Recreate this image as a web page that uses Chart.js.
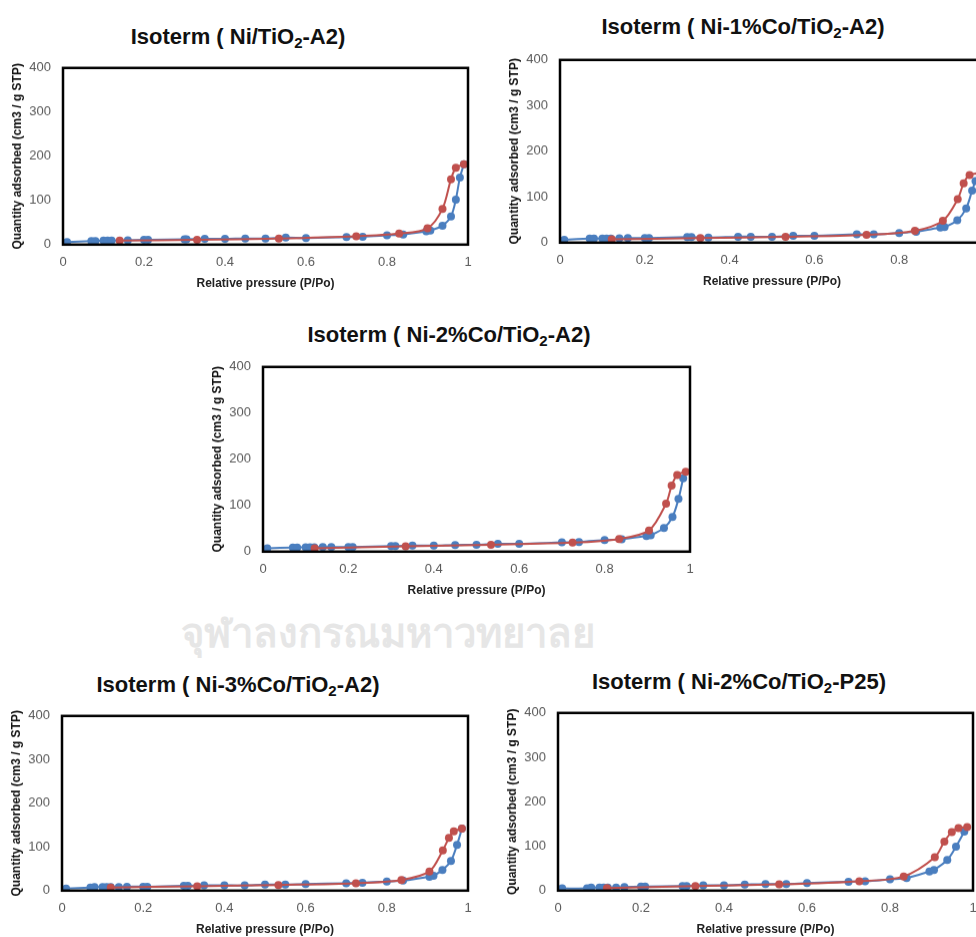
<!DOCTYPE html>
<html>
<head>
<meta charset="utf-8">
<script src="https://cdn.jsdelivr.net/npm/chart.js@4/dist/chart.umd.min.js"></script>
<style>
  html, body { margin: 0; padding: 0; background: #fff; }
  body { width: 976px; height: 937px; position: relative; overflow: hidden; }
  .title {
    position: absolute; transform: translate(-50%, -50%);
    font-family: 'Liberation Sans', Arial, sans-serif; font-weight: bold; font-size: 22px;
    color: #111; white-space: nowrap;
  }
  .title sub { font-size: 15px; vertical-align: -4px; line-height: 0; }
  .box { position: absolute; }
  .watermark {
    position: absolute; left: 181px; top: 601px;
    font-family: 'Noto Sans', 'DejaVu Sans', sans-serif; font-weight: bold; font-size: 40px;
    color: #e6e6e6; white-space: nowrap;
  }
</style>
</head>
<body>

<div class="watermark">จุฬาลงกรณมหาวทยาลย</div>

<div class="title" style="left:238px; top:37px;">Isoterm ( Ni/TiO<sub>2</sub>-A2)</div>
<div class="title" style="left:743px; top:27px;">Isoterm ( Ni-1%Co/TiO<sub>2</sub>-A2)</div>
<div class="title" style="left:449px; top:335px;">Isoterm ( Ni-2%Co/TiO<sub>2</sub>-A2)</div>
<div class="title" style="left:238px; top:685px;">Isoterm ( Ni-3%Co/TiO<sub>2</sub>-A2)</div>
<div class="title" style="left:739px; top:682px;">Isoterm ( Ni-2%Co/TiO<sub>2</sub>-P25)</div>

<div class="box" id="b1"><canvas id="c1"></canvas></div>
<div class="box" id="b2"><canvas id="c2"></canvas></div>
<div class="box" id="b3"><canvas id="c3"></canvas></div>
<div class="box" id="b4"><canvas id="c4"></canvas></div>
<div class="box" id="b5"><canvas id="c5"></canvas></div>

<script>
// Axis ticks
const xTicks = [0, 0.2, 0.4, 0.6, 0.8, 1];
const yTicks = [0, 100, 200, 300, 400];

// Ni/TiO2-A2
const ads1P = [0.01, 0.07, 0.08, 0.10, 0.11, 0.12, 0.16, 0.20, 0.21, 0.30, 0.305, 0.35, 0.40, 0.45, 0.50, 0.55, 0.60, 0.70, 0.74, 0.80, 0.84, 0.897, 0.907, 0.937, 0.958, 0.97, 0.98, 0.99];
const ads1Q = [6, 8, 8, 9, 9, 9, 10, 11, 11, 12, 12, 13, 13, 14, 14, 16, 15, 17, 18, 21, 23, 30, 32, 43, 64, 102, 152, 182];
const des1P = [0.99, 0.97, 0.958, 0.937, 0.90, 0.83, 0.724, 0.533, 0.331, 0.14];
const des1Q = [182, 174, 148, 81, 37, 25, 19, 14, 11, 9];

// Ni-1%Co/TiO2-A2
const ads2P = [0.01, 0.07, 0.08, 0.10, 0.11, 0.12, 0.14, 0.16, 0.20, 0.21, 0.30, 0.31, 0.35, 0.42, 0.45, 0.50, 0.55, 0.60, 0.70, 0.74, 0.80, 0.84, 0.897, 0.907, 0.937, 0.958, 0.972, 0.98, 0.99];
const ads2Q = [6, 9, 9, 9, 9, 9, 9.5, 10, 10, 10, 12, 12, 11, 13, 13, 13, 15, 15, 18, 18, 21, 24, 33, 34, 49, 75, 114, 135, 152];
const des2P = [0.99, 0.966, 0.952, 0.938, 0.903, 0.837, 0.723, 0.532, 0.331, 0.122];
const des2Q = [152, 148, 130, 95, 48, 26, 17, 12.5, 10, 7];

// Ni-2%Co/TiO2-A2
const ads3P = [0.01, 0.07, 0.08, 0.10, 0.11, 0.12, 0.14, 0.16, 0.20, 0.21, 0.30, 0.31, 0.35, 0.40, 0.45, 0.50, 0.55, 0.60, 0.70, 0.74, 0.80, 0.84, 0.898, 0.908, 0.939, 0.959, 0.973, 0.984];
const ads3Q = [7, 9, 9, 9.5, 9.5, 9.5, 10, 10, 10, 10, 12, 12, 13, 13, 14.5, 15, 17, 17, 20, 21, 25, 27, 34, 35.5, 51, 75, 114, 159];
const des3P = [0.99, 0.97, 0.957, 0.944, 0.904, 0.834, 0.725, 0.534, 0.334, 0.121];
const des3Q = [173, 166, 143, 104, 46, 27.5, 19.5, 15, 11.5, 7];

// Ni-3%Co/TiO2-A2
const ads4P = [0.01, 0.07, 0.08, 0.10, 0.11, 0.12, 0.14, 0.16, 0.20, 0.21, 0.30, 0.31, 0.35, 0.40, 0.45, 0.50, 0.55, 0.60, 0.70, 0.74, 0.80, 0.84, 0.905, 0.915, 0.937, 0.958, 0.973, 0.985];
const ads4Q = [5, 7, 8, 8, 8, 8, 8, 9, 9, 9, 11, 11, 12, 12, 12, 14, 14, 15, 17, 18, 21, 23, 32, 34, 47.5, 68, 105, 142];
const des4P = [0.985, 0.965, 0.953, 0.938, 0.905, 0.836, 0.724, 0.533, 0.333, 0.12];
const des4Q = [142, 136, 121, 92, 44, 24.5, 17, 13, 10, 7];

// Ni-2%Co/TiO2-P25
const ads5P = [0.01, 0.07, 0.08, 0.10, 0.11, 0.12, 0.14, 0.16, 0.20, 0.21, 0.30, 0.31, 0.35, 0.40, 0.45, 0.50, 0.55, 0.60, 0.70, 0.74, 0.80, 0.84, 0.895, 0.906, 0.938, 0.959, 0.979];
const ads5Q = [5, 5, 7, 7, 7, 7, 7, 8, 9, 9, 10.5, 10.5, 12, 12, 13.5, 15, 15, 17, 20, 21, 25.5, 28.5, 43, 46.6, 69, 99, 133];
const des5P = [0.986, 0.965, 0.949, 0.931, 0.908, 0.833, 0.726, 0.533, 0.331, 0.118];
const des5Q = [143, 140.6, 132, 110.5, 75, 32, 21, 14, 10.5, 6];

const BLUE = '#4a7ebf';
const RED = '#c0504d';

// plot area of each panel on the page: left, top, right, bottom
const panels = [
    { id: 1, plot: [63, 68, 468, 244], ads: [ads1P, ads1Q], des: [des1P, des1Q] },
    { id: 2, plot: [560, 60, 984, 242], ads: [ads2P, ads2Q], des: [des2P, des2Q] },
    { id: 3, plot: [263, 367, 690, 551], ads: [ads3P, ads3Q], des: [des3P, des3Q] },
    { id: 4, plot: [62, 716, 468, 890], ads: [ads4P, ads4Q], des: [des4P, des4Q] },
    { id: 5, plot: [558, 713, 973, 890], ads: [ads5P, ads5Q], des: [des5P, des5Q] }
];

const Y_W = 60, PAD_T = 10, PAD_R = 14, X_H = 48;

// thick frame round the plot area
const frame = {
    id: 'frame',
    afterDatasetsDraw(chart) {
        const a = chart.chartArea, ctx = chart.ctx;
        ctx.save();
        ctx.strokeStyle = '#000';
        ctx.lineWidth = 2.5;
        ctx.strokeRect(a.left, a.top, a.right - a.left, a.bottom - a.top);
        ctx.restore();
    }
};

function toPoints(xs, ys) {
    return xs.map((x, i) => ({ x: x, y: ys[i] }));
}

function series(label, pts, color, order) {
    return {
        label: label,
        data: pts,
        showLine: true,
        borderColor: color,
        backgroundColor: color,
        borderWidth: 2,
        pointRadius: 4,
        pointBorderWidth: 0,
        tension: 0.3,
        order: order
    };
}

function setBox(box, l, t, w, h) {
    box.style.left = l + 'px';
    box.style.top = t + 'px';
    box.style.width = w + 'px';
    box.style.height = h + 'px';
}

function makePanel(p) {
    const [l, t, r, b] = p.plot;
    const box = document.getElementById('b' + p.id);
    let bl = l - Y_W, bt = t - PAD_T;
    let bw = r - l + Y_W + PAD_R, bh = b - t + PAD_T + X_H;
    setBox(box, bl, bt, bw, bh);

    const chart = new Chart(document.getElementById('c' + p.id), {
        type: 'scatter',
        data: {
            datasets: [
                series('Desorption', toPoints(p.des[0], p.des[1]), RED, 0),
                series('Adsorption', toPoints(p.ads[0], p.ads[1]), BLUE, 1)
            ]
        },
        options: {
            responsive: true,
            maintainAspectRatio: false,
            animation: false,
            layout: { padding: { top: PAD_T, right: PAD_R, left: 0, bottom: 0 } },
            plugins: {
                legend: { display: false },
                tooltip: { enabled: false }
            },
            scales: {
                x: {
                    type: 'linear',
                    min: 0, max: 1,
                    afterFit: s => { s.height = X_H; },
                    afterBuildTicks: s => { s.ticks = xTicks.map(v => ({ value: v })); },
                    grid: { display: false, drawTicks: false },
                    border: { display: false },
                    ticks: {
                        padding: 10,
                        color: '#595959',
                        font: { family: "'Liberation Sans', Arial, sans-serif", size: 13 },
                        callback: v => String(v)
                    },
                    title: {
                        display: true,
                        text: 'Relative pressure (P/Po)',
                        color: '#222',
                        padding: { top: 0, bottom: 2 },
                        font: { family: "'Liberation Sans', Arial, sans-serif", size: 12, weight: 'bold' }
                    }
                },
                y: {
                    min: 0, max: 400,
                    afterFit: s => { s.width = Y_W; },
                    afterBuildTicks: s => { s.ticks = yTicks.map(v => ({ value: v })); },
                    grid: { display: false, drawTicks: false },
                    border: { display: false },
                    ticks: {
                        padding: 12,
                        color: '#595959',
                        font: { family: "'Liberation Sans', Arial, sans-serif", size: 13 }
                    },
                    title: {
                        display: true,
                        text: 'Quantity adsorbed (cm3 / g STP)',
                        color: '#111',
                        padding: { top: 7, bottom: 0 },
                        font: { family: "'Liberation Sans', Arial, sans-serif", size: 12, weight: 'bold' }
                    }
                }
            }
        },
        plugins: [frame]
    });

    // shift the box so the plot area lands where it should
    const a = chart.chartArea;
    const extraTop = a.top - PAD_T;
    bt -= extraTop;
    bh += extraTop;
    setBox(box, bl, bt, bw, bh);
    chart.resize();
}

panels.forEach(makePanel);
</script>
</body>
</html>
